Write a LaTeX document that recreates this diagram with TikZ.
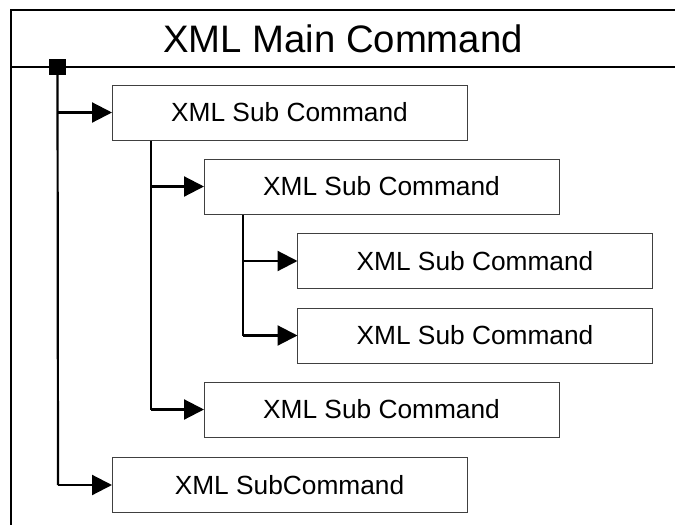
\documentclass[tikz,border=0pt]{standalone}
\usepackage{fontspec}
\setmainfont{Liberation Sans}
\usetikzlibrary{arrows.meta}
\begin{document}
\begin{tikzpicture}[x=1pt,y=-1pt,
  cmdbox/.style={draw=black!75, line width=1pt, rectangle, minimum width=355pt,
    minimum height=55pt, inner sep=0pt, font=\fontsize{26.3}{30}\selectfont},
  wire/.style={line width=2.2pt, -{Triangle[length=20pt,width=20pt]}, shorten >=-0.5pt},
  trunk/.style={line width=2.2pt},
  frame/.style={line width=2.5pt}]
\useasboundingbox (0,0) rectangle (675,525);

% outer frame with the title band
\draw[frame] (11,525) -- (11,10) -- (675,10);
\draw[frame] (11,67) -- (675,67);
\node[font=\fontsize{38.3}{44}\selectfont] (title) at (343,38.5) {XML Main Command};

% root marker
\node[fill=black, minimum width=17pt, minimum height=16pt, inner sep=0pt] (root) at (57.5,67) {};

% command boxes
\node[cmdbox] (c1) at (289.5,112.5) {XML Sub Command};
\node[cmdbox] (c2) at (381.5,186.5) {XML Sub Command};
\node[cmdbox] (c3) at (475,261) {XML Sub Command};
\node[cmdbox] (c4) at (475,335.5) {XML Sub Command};
\node[cmdbox] (c5) at (381.5,409.5) {XML Sub Command};
\node[cmdbox] (c6) at (289.5,485) {XML SubCommand};

% trunk lines
\coordinate (t0) at (58,485);
\coordinate (t1) at (151,409.5);
\coordinate (t2) at (243,335.5);
\draw[trunk] (root.center) -- (t0);
\draw[trunk] (c1.south -| t1) -- (t1);
\draw[trunk] (c2.south -| t2) -- (t2);

% branches
\draw[wire] (t0 |- c1.west) -- (c1.west);
\draw[wire] (t0) -- (c6.west);
\draw[wire] (t1 |- c2.west) -- (c2.west);
\draw[wire] (t1) -- (c5.west);
\draw[wire] (t2 |- c3.west) -- (c3.west);
\draw[wire] (t2) -- (c4.west);
\end{tikzpicture}
\end{document}
